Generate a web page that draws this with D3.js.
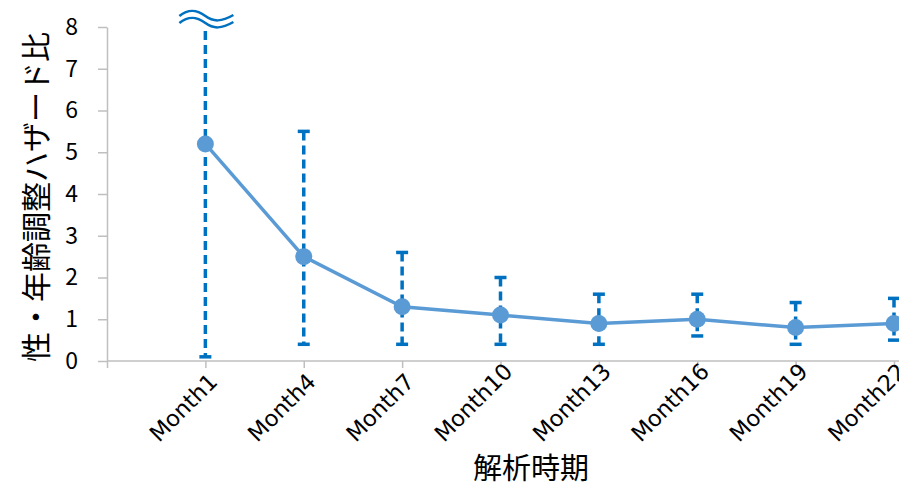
<!DOCTYPE html>
<html>
<head>
<meta charset="utf-8">
<script src="https://cdn.jsdelivr.net/npm/d3@7"></script>
<style>
  html, body { margin: 0; padding: 0; background: #fff; }
  svg { display: block; }
</style>
</head>
<body>
<svg id="chart" width="899" height="488"></svg>
<script>
// ---- data ----
const categories = ["Month1", "Month4", "Month7", "Month10", "Month13", "Month16", "Month19", "Month22"];
const hazardRatio = [5.2, 2.5, 1.3, 1.1, 0.9, 1.0, 0.8, 0.9];
const ciLower = [0.1, 0.4, 0.4, 0.4, 0.4, 0.6, 0.4, 0.5];
const ciUpper = [8.0, 5.5, 2.6, 2.0, 1.6, 1.6, 1.4, 1.5];
const ciBroken = [true, false, false, false, false, false, false, false]; // upper limit off the scale
const yTicks = [0, 1, 2, 3, 4, 5, 6, 7, 8];
const xTitle = "解析時期";
const yTitle = "性・年齢調整ハザード比";

// ---- layout ----
const svg = d3.select("#chart");
const plotL = 107, plotR = 894, plotT = 27, plotB = 361;
const font = "'Noto Sans CJK JP', 'Noto Sans', sans-serif";
const latin = "'DejaVu Sans', 'Noto Sans CJK JP', sans-serif";
const axisColor = "#bfbfbf";

const x = d3.scalePoint().domain(["__start"].concat(categories)).range([plotL, plotR]);
const y = d3.scaleLinear().domain([0, 8]).range([plotB, plotT]);

// y axis
const yAxis = svg.append("g").attr("transform", `translate(${plotL},0)`)
  .call(d3.axisLeft(y).tickValues(yTicks).tickFormat(d3.format("d")).tickSize(9).tickPadding(20).tickSizeOuter(0));
yAxis.select(".domain").attr("stroke", axisColor).attr("stroke-width", 1.5);
yAxis.selectAll(".tick line").attr("stroke", axisColor).attr("stroke-width", 1.5);
yAxis.selectAll(".tick text").attr("fill", "#000").style("font-family", font).style("font-size", "23px");

// x axis
const xAxis = svg.append("g").attr("transform", `translate(0,${plotB})`)
  .call(d3.axisBottom(x).tickSize(7).tickSizeOuter(0).tickFormat(d => d === "__start" ? "" : d));
xAxis.select(".domain").attr("stroke", axisColor).attr("stroke-width", 1.5)
  .attr("d", `M${plotL},0H899`);
xAxis.selectAll(".tick line").attr("stroke", axisColor).attr("stroke-width", 1.5);
xAxis.selectAll(".tick text")
  .attr("fill", "#000")
  .style("font-family", latin).style("font-size", "22.5px")
  .attr("text-anchor", "end")
  .attr("x", 0).attr("y", 0).attr("dy", 0)
  .each(function () {
    const L = this.getComputedTextLength ? this.getComputedTextLength() : 80;
    const ey = 82 - L * Math.SQRT1_2; // start of each label sits on a common baseline
    d3.select(this).attr("transform", `translate(13,${ey}) rotate(-45)`);
  });

// error bars
const ebColor = "#0070c0";
const eb = svg.append("g");
categories.forEach((c, i) => {
  const cx = x(c);
  eb.append("line")
    .attr("x1", cx).attr("x2", cx)
    .attr("y1", ciBroken[i] ? y(ciUpper[i]) + 4 : y(ciUpper[i]))
    .attr("y2", y(ciLower[i]))
    .attr("stroke", ebColor).attr("stroke-width", 3.5)
    .attr("stroke-dasharray", "9,5");
  eb.append("line")
    .attr("x1", cx - 6).attr("x2", cx + 6)
    .attr("y1", y(ciLower[i])).attr("y2", y(ciLower[i]))
    .attr("stroke", ebColor).attr("stroke-width", 3.5);
  if (!ciBroken[i]) {
    eb.append("line")
      .attr("x1", cx - 6).attr("x2", cx + 6)
      .attr("y1", y(ciUpper[i])).attr("y2", y(ciUpper[i]))
      .attr("stroke", ebColor).attr("stroke-width", 3.5);
  } else {
    // break symbol (≈) above the truncated bar
    [0, 7].forEach(off => {
      const by = y(ciUpper[i]) - 11 + off;
      eb.append("path")
        .attr("d", `M${cx - 26},${by} C${cx - 16},${by - 8} ${cx - 8},${by - 6} ${cx},${by}` +
                   ` S${cx + 16},${by + 6} ${cx + 28},${by - 1}`)
        .attr("fill", "none").attr("stroke", ebColor).attr("stroke-width", 2.5);
    });
  }
});

// line + markers
const lineColor = "#5b9bd5";
svg.append("path")
  .datum(hazardRatio)
  .attr("d", d3.line().x((d, i) => x(categories[i])).y(d => y(d)))
  .attr("fill", "none").attr("stroke", lineColor).attr("stroke-width", 3.5);
svg.append("g").selectAll("circle").data(hazardRatio).join("circle")
  .attr("cx", (d, i) => x(categories[i])).attr("cy", d => y(d)).attr("r", 8.5)
  .attr("fill", lineColor);

// titles
svg.append("text").text(xTitle)
  .attr("x", 531).attr("y", 479).attr("text-anchor", "middle")
  .style("font-family", font).style("font-size", "29px").attr("fill", "#000");
svg.append("text").text(yTitle)
  .attr("transform", `translate(47,197) rotate(-90)`).attr("text-anchor", "middle")
  .style("font-family", font).style("font-size", "30px").attr("fill", "#000");
</script>
</body>
</html>
